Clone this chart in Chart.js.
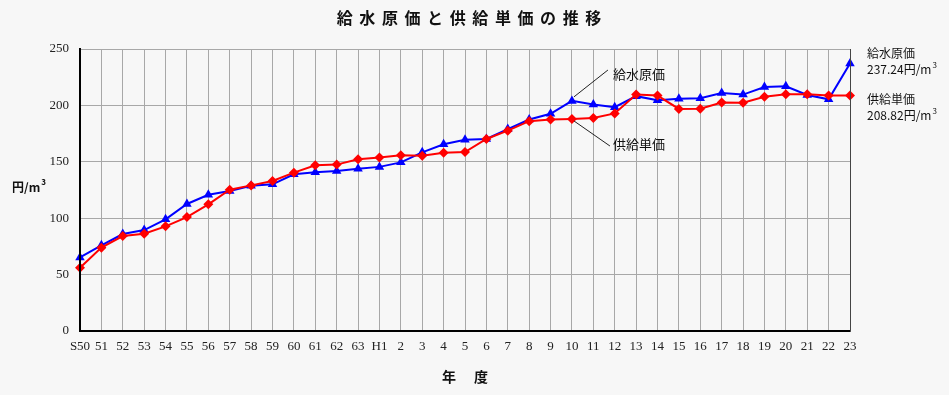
<!DOCTYPE html>
<html>
<head>
<meta charset="utf-8">
<script src="https://cdn.jsdelivr.net/npm/chart.js@4/dist/chart.umd.min.js"></script>
<style>
html,body{margin:0;padding:0;background:#f7f7f7;}
#wrap{width:949px;height:395px;position:relative;}
</style>
</head>
<body>
<div id="wrap"><canvas id="c" width="949" height="395"></canvas></div>
<script>
const categories = ["S50","51","52","53","54","55","56","57","58","59","60","61","62","63","H1","2","3","4","5","6","7","8","9","10","11","12","13","14","15","16","17","18","19","20","21","22","23"];
const supplyCost = [65.2,76,86,89.5,99,112.6,120.8,124.1,128.8,130,138.9,140.7,141.8,143.9,145.5,149.5,158.4,165.5,169.6,170.2,179,187.5,192.6,204,200.8,198.4,208.2,204.6,205.9,206.3,211,209.6,216.3,216.9,209.2,205.4,237.24];
const supplyPrice = [56.1,73.9,84.2,86.3,92.8,101,112.3,125.3,129.1,133,140.4,146.9,147.5,152.2,153.8,155.7,155.4,158,158.7,170.2,177.6,186,187.6,188,188.8,192.9,209.6,208.7,196.9,197,202.6,202.3,207.7,209.8,209.8,208.8,208.82];
const yTicks = [0,50,100,150,200,250];
const titleText = "給水原価と供給単価の推移";
const xTitle = "年　度";
const seriesNames = ["給水原価","供給単価"];
const endLabels = ["237.24円/m","208.82円/m"];

const bgPlugin = {
  id:'bg',
  beforeDraw(chart){
    const ctx = chart.ctx;
    ctx.save();
    ctx.fillStyle = '#f7f7f7';
    ctx.fillRect(0,0,chart.width,chart.height);
    ctx.restore();
  },
  afterDatasetsDraw(chart){
    const ctx = chart.ctx;
    const a = chart.chartArea;
    ctx.save();
    ctx.strokeStyle = '#444';
    ctx.lineWidth = 1;
    ctx.beginPath();
    ctx.moveTo(a.right+0.5, a.top); ctx.lineTo(a.right+0.5, a.bottom);
    ctx.stroke();
    ctx.strokeStyle = '#000';
    ctx.lineWidth = 2;
    ctx.beginPath();
    ctx.moveTo(a.left, a.top); ctx.lineTo(a.left, a.bottom); ctx.lineTo(a.right, a.bottom);
    ctx.stroke();
    ctx.restore();
  },
  afterDraw(chart){
    const ctx = chart.ctx;
    const a = chart.chartArea;
    const xs = chart.scales.x, ys = chart.scales.y;
    ctx.save();
    ctx.fillStyle = '#111';
    ctx.textBaseline = 'middle';
    ctx.font = 'bold 16px "Noto Sans CJK JP"';
    ctx.textAlign = 'center';
    const step = 22.6;
    const startX = 469 - step*(titleText.length-1)/2;
    for (let i=0;i<titleText.length;i++) ctx.fillText(titleText[i], startX + i*step, 18);
    ctx.font = 'bold 14px "Noto Sans CJK JP"';
    ctx.fillText(xTitle[0], 449, 377);
    ctx.fillText(xTitle[2], 481, 377);
    ctx.textAlign = 'left';
    ctx.font = 'bold 12px "Noto Sans CJK JP"';
    ctx.fillText('円/m', 12, 187);
    const w = ctx.measureText('円/m').width;
    ctx.font = 'bold 8px "Noto Sans CJK JP"';
    ctx.fillText('3', 12 + w + 1, 182);
    const rx = a.right + 17;
    ctx.font = '12px "Noto Sans CJK JP"';
    ctx.fillText(seriesNames[0], rx, 53);
    ctx.fillText(endLabels[0], rx, 69);
    let w2 = ctx.measureText(endLabels[0]).width;
    ctx.font = '8px "Noto Sans CJK JP"';
    ctx.fillText('3', rx + w2 + 1, 65);
    ctx.font = '12px "Noto Sans CJK JP"';
    ctx.fillText(seriesNames[1], rx, 99);
    ctx.fillText(endLabels[1], rx, 115);
    w2 = ctx.measureText(endLabels[1]).width;
    ctx.font = '8px "Noto Sans CJK JP"';
    ctx.fillText('3', rx + w2 + 1, 111);
    const idx = categories.indexOf('10');
    const px = xs.getPixelForValue(idx);
    const pA = ys.getPixelForValue(supplyCost[idx]);
    const pB = ys.getPixelForValue(supplyPrice[idx]);
    ctx.strokeStyle = '#222';
    ctx.lineWidth = 1;
    ctx.beginPath();
    ctx.moveTo(px+2, pA-4); ctx.lineTo(px+36, 70);
    ctx.moveTo(px+2, pB+2); ctx.lineTo(px+38, 146);
    ctx.stroke();
    ctx.font = '13px "Noto Sans CJK JP"';
    ctx.fillStyle = '#111';
    ctx.fillText(seriesNames[0], px+41, 74);
    ctx.fillText(seriesNames[1], px+41, 144);
    ctx.restore();
  }
};

new Chart(document.getElementById('c'), {
  type:'line',
  data:{
    labels: categories,
    datasets:[
      {label:seriesNames[0], data:supplyCost, borderColor:'#0000ff', backgroundColor:'#0000ff', borderWidth:2, pointStyle:'triangle', pointRadius:5.5, pointBorderWidth:0, order:1, tension:0},
      {label:seriesNames[1], data:supplyPrice, borderColor:'#ff0000', backgroundColor:'#ff0000', borderWidth:2, pointStyle:'rectRot', pointRadius:5, pointBorderWidth:0, order:0, tension:0}
    ]
  },
  options:{
    responsive:false,
    animation:false,
    devicePixelRatio:1,
    layout:{padding:{left:0, right:99, top:49, bottom:0}},
    plugins:{legend:{display:false}, tooltip:{enabled:false}, title:{display:false}},
    scales:{
      x:{
        offset:false,
        grid:{color:'#a8a8a8', lineWidth:1, drawTicks:false},
        border:{display:true, color:'#555', width:1},
        ticks:{autoSkip:false, maxRotation:0, minRotation:0, padding:8, color:'#222', font:{family:'"Liberation Serif"', size:13}},
        afterFit(s){ s.height = 64; }
      },
      y:{
        min:0, max:250,
        afterBuildTicks(s){ s.ticks = yTicks.map(v=>({value:v})); },
        grid:{color:'#a8a8a8', lineWidth:1, drawTicks:false},
        border:{display:true, color:'#000', width:2},
        ticks:{padding:11, color:'#222', font:{family:'"Liberation Serif"', size:13}},
        afterFit(s){ s.width = 80; }
      }
    }
  },
  plugins:[bgPlugin]
});
</script>
</body>
</html>
